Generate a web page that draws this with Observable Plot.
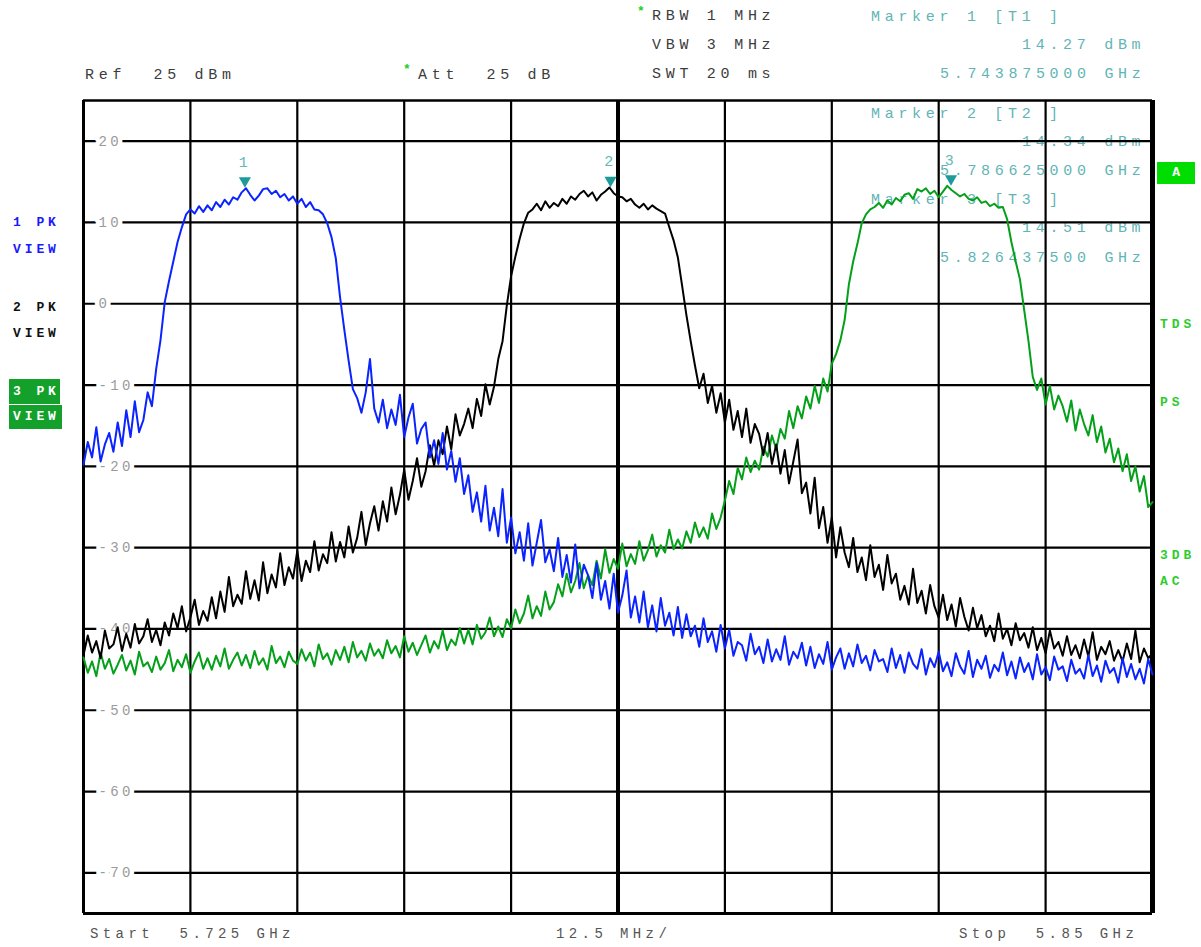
<!DOCTYPE html>
<html><head><meta charset="utf-8">
<script src="https://cdn.jsdelivr.net/npm/d3@7"></script>
<script src="https://cdn.jsdelivr.net/npm/@observablehq/plot@0.6"></script>
<style>
html,body{margin:0;padding:0;background:#fff;}
#wrap{position:relative;width:1201px;height:947px;overflow:hidden;font-family:"Liberation Mono",monospace;}
.t{position:absolute;white-space:pre;font-size:15px;letter-spacing:4.7px;line-height:20px;color:#3c3c3c;}
.teal{color:#5fb5b5;}
.star{position:absolute;color:#22cc22;font-size:13px;font-weight:bold;line-height:14px;}
.lab{position:absolute;white-space:pre;font-size:13px;font-weight:bold;letter-spacing:3.9px;line-height:20px;}
.box{position:absolute;background:#13a02b;color:#fff;font-size:13px;font-weight:bold;letter-spacing:3.9px;white-space:pre;box-sizing:border-box;padding-left:4px;}
.bot{position:absolute;white-space:pre;font-size:14px;letter-spacing:4.4px;line-height:20px;color:#555;}
#chart{position:absolute;left:0;top:0;z-index:1;}
#chart text{letter-spacing:3.3px;}
</style>
</head><body>
<div id="wrap"></div>
<script>
// ---- data ----
const startMHz = 5725, stopMHz = 5850, stepMHz = 0.5;
const trace1Blue = [
-19.8,-17.0,-18.9,-15.2,-19.4,-17.3,-15.9,-18.2,-14.6,-17.5,
-13.1,-16.4,-12.0,-15.8,-14.3,-10.9,-12.6,-8.0,-4.5,0.2,
2.8,5.2,7.6,9.4,11.0,11.6,11.1,12.0,11.3,12.1,
11.5,12.5,11.9,12.8,12.2,13.1,12.8,13.7,14.2,13.4,
12.7,13.3,14.1,14.2,13.5,13.9,13.1,13.5,12.7,13.2,
12.3,12.9,11.9,12.5,11.6,11.5,11.0,9.9,8.2,5.6,
0.8,-3.2,-7.0,-10.5,-11.6,-13.4,-10.9,-6.8,-12.9,-14.6,
-11.8,-15.3,-13.0,-14.9,-11.2,-16.4,-14.0,-12.3,-17.2,-15.4,
-14.6,-18.9,-16.8,-19.7,-15.9,-20.4,-18.1,-21.9,-19.0,-23.4,
-21.1,-25.6,-23.2,-26.8,-22.4,-27.9,-25.1,-28.6,-22.8,-29.4,
-26.3,-30.7,-28.1,-31.6,-27.0,-32.2,-29.4,-26.6,-31.8,-30.2,
-32.9,-28.8,-33.6,-30.9,-34.3,-29.6,-35.0,-32.1,-33.4,-36.2,
-31.9,-36.4,-34.1,-37.5,-33.2,-38.0,-35.9,-32.8,-38.6,-36.0,
-39.2,-35.4,-39.8,-37.1,-40.3,-36.2,-39.6,-38.0,-40.8,-37.3,
-41.1,-38.2,-40.9,-39.6,-42.2,-38.7,-41.6,-40.3,-42.8,-39.5,
-42.4,-40.1,-43.3,-41.6,-42.0,-43.9,-40.6,-43.1,-42.2,-44.2,
-41.3,-44.0,-42.5,-43.8,-40.9,-44.4,-42.8,-43.6,-41.7,-44.5,
-42.2,-44.8,-43.1,-44.3,-41.6,-45.0,-43.5,-42.4,-44.9,-43.0,
-44.6,-41.9,-44.2,-43.3,-45.1,-42.6,-44.0,-43.7,-45.3,-42.4,
-44.8,-43.2,-45.4,-42.9,-44.3,-44.9,-42.5,-45.6,-43.6,-44.7,
-42.8,-45.2,-44.1,-45.8,-43.0,-44.6,-45.5,-42.7,-45.9,-43.8,
-44.9,-43.3,-46.0,-44.4,-45.2,-42.9,-45.7,-44.0,-46.1,-43.5,
-45.3,-44.2,-46.2,-43.1,-45.6,-44.7,-46.3,-43.4,-45.0,-44.6,
-46.4,-43.8,-45.5,-44.9,-46.1,-43.2,-45.8,-44.5,-46.5,-43.9,
-45.4,-44.8,-46.6,-43.6,-45.9,-44.3,-46.2,-44.9,-46.7,-43.7,
-45.6];
const trace2Black = [
-43.2,-40.8,-42.9,-41.5,-43.6,-40.2,-42.4,-41.9,-39.8,-42.7,
-40.6,-42.3,-39.4,-41.8,-40.9,-38.8,-41.6,-40.1,-42.0,-39.2,
-40.8,-38.1,-39.9,-37.2,-40.3,-38.6,-36.4,-39.5,-37.8,-39.0,
-36.1,-38.7,-35.4,-37.9,-33.6,-37.2,-35.8,-36.9,-32.9,-36.3,
-34.0,-36.5,-31.8,-35.6,-33.3,-34.9,-30.7,-34.6,-32.4,-33.8,
-30.4,-34.1,-31.6,-33.0,-29.2,-32.8,-30.8,-31.9,-28.1,-31.7,
-29.3,-31.2,-27.4,-30.6,-28.8,-25.6,-29.7,-27.0,-24.9,-27.9,
-24.3,-26.8,-22.6,-25.9,-23.5,-20.4,-24.1,-21.8,-19.0,-22.5,
-20.6,-17.4,-19.9,-16.8,-18.5,-15.1,-17.9,-13.6,-16.2,-14.8,
-12.9,-15.3,-11.7,-13.8,-9.9,-12.4,-10.2,-6.8,-4.6,-0.2,
3.4,5.8,8.0,9.9,11.2,11.6,12.3,11.5,12.6,11.8,
12.4,12.0,12.9,12.3,13.2,12.8,13.5,13.9,13.2,13.7,
12.7,13.4,13.8,14.3,13.6,13.2,13.1,12.6,12.9,12.2,
11.8,12.3,11.6,12.1,11.7,11.4,11.1,9.4,7.8,5.7,
2.2,-1.4,-4.6,-7.6,-10.4,-8.6,-12.2,-10.1,-13.4,-11.0,
-14.6,-11.8,-15.5,-13.2,-16.4,-12.9,-17.1,-14.8,-16.0,-18.6,
-15.9,-19.7,-17.3,-20.9,-18.0,-22.1,-19.4,-16.7,-23.3,-22.0,
-25.8,-21.4,-27.6,-25.0,-29.4,-26.3,-31.2,-27.5,-30.6,-32.4,
-28.8,-33.0,-31.2,-34.0,-29.7,-33.6,-32.1,-35.2,-30.9,-34.4,
-33.2,-36.4,-34.7,-37.0,-32.6,-36.8,-35.3,-38.1,-34.6,-37.2,
-38.6,-35.8,-38.9,-37.0,-39.7,-36.2,-38.5,-40.2,-37.4,-39.9,
-38.3,-40.9,-39.6,-41.5,-38.1,-41.2,-40.0,-42.0,-39.3,-41.4,
-40.5,-42.3,-39.8,-42.6,-41.1,-43.0,-40.2,-42.4,-41.6,-43.3,
-40.9,-43.2,-42.0,-43.6,-41.3,-43.4,-40.4,-43.8,-42.2,-43.1,
-41.5,-43.9,-42.6,-44.0,-41.8,-43.7,-40.2,-44.1,-42.4,-43.6,
-43.0];
const trace3Green = [
-43.5,-45.4,-44.0,-45.8,-42.9,-44.9,-43.7,-45.5,-44.4,-43.2,
-45.1,-43.9,-45.6,-42.8,-44.6,-44.1,-45.3,-43.4,-45.0,-44.2,
-42.6,-45.2,-43.8,-44.7,-43.1,-45.4,-44.0,-42.9,-44.9,-43.6,
-45.0,-43.3,-44.6,-42.4,-44.9,-43.8,-42.9,-44.5,-43.2,-44.8,
-42.7,-44.4,-43.6,-45.0,-42.1,-44.2,-43.4,-44.7,-42.8,-43.9,
-44.3,-42.5,-43.9,-42.9,-44.6,-41.9,-43.7,-43.0,-44.4,-42.6,
-43.8,-42.2,-44.1,-41.6,-43.5,-42.7,-43.9,-41.8,-43.3,-42.5,
-43.6,-41.4,-43.0,-42.1,-43.5,-40.9,-42.8,-41.7,-43.2,-42.0,
-40.8,-42.9,-41.5,-42.4,-40.2,-42.6,-41.3,-42.0,-39.9,-41.8,
-40.1,-41.9,-39.5,-41.2,-40.4,-38.6,-40.9,-39.7,-41.0,-38.8,
-39.9,-37.6,-39.3,-38.1,-35.9,-38.7,-37.2,-38.4,-35.4,-37.6,
-36.7,-34.5,-36.0,-33.2,-35.5,-34.1,-31.9,-35.0,-33.4,-34.6,
-31.6,-33.8,-30.2,-33.1,-31.4,-32.6,-29.5,-32.3,-30.8,-32.0,
-29.2,-31.6,-30.3,-28.4,-31.1,-29.7,-30.6,-27.8,-30.2,-29.0,
-30.1,-28.0,-29.4,-26.9,-28.7,-27.5,-28.9,-25.8,-27.7,-26.3,
-24.2,-21.8,-23.4,-20.2,-21.6,-18.9,-20.7,-19.3,-20.4,-17.6,
-18.8,-16.2,-17.9,-15.4,-16.6,-13.2,-15.3,-12.6,-14.1,-11.4,
-12.9,-10.1,-12.2,-9.2,-10.8,-7.4,-6.2,-4.5,-2.0,2.4,
5.2,7.4,9.9,11.0,11.6,11.9,12.4,11.8,12.7,12.2,
13.0,12.6,13.4,13.6,12.9,14.1,13.8,14.2,13.5,13.9,
13.1,13.8,14.5,14.0,13.6,13.2,13.5,12.9,12.7,13.1,
12.4,12.6,12.0,12.3,11.8,11.9,10.4,7.6,5.2,3.0,
-0.8,-4.6,-9.0,-10.6,-9.2,-12.4,-10.1,-13.0,-11.3,-12.6,
-14.5,-11.9,-15.6,-13.0,-14.8,-16.2,-13.7,-17.0,-15.1,-18.3,
-16.6,-19.5,-17.8,-20.6,-18.5,-21.8,-20.0,-23.1,-21.2,-25.0,
-24.4];
const markerNames = ["1", "2", "3"];
const markerFreqs = [5743.875, 5786.625, 5826.4375];
const markerLevels = [14.27, 14.34, 14.51];
const yTicks = [20, 10, 0, -10, -20, -30, -40, -50, -60, -70];
const xGrid = [5737.5, 5750, 5762.5, 5775, 5800, 5812.5, 5825, 5837.5];
const xCenter = 5787.5;
const refLevel = 25, bottomLevel = -75;

// ---- build ----
const freqs = trace1Blue.map((_, i) => startMHz + i * stepMHz);
const toRows = (vals) => vals.map((v, i) => ({f: freqs[i], v}));
const markers = markerNames.map((n, i) => ({name: n, f: markerFreqs[i], v: markerLevels[i]}));

const chart = Plot.plot({
  width: 1201, height: 947,
  marginLeft: 83, marginRight: 49, marginTop: 100, marginBottom: 34,
  x: {domain: [startMHz, stopMHz], axis: null},
  y: {domain: [bottomLevel, refLevel], axis: null},
  style: {background: "transparent", overflow: "visible"},
  marks: [
    Plot.ruleY(yTicks, {stroke: "#000", strokeWidth: 2.2}),
    Plot.ruleX(xGrid, {stroke: "#000", strokeWidth: 2.2}),
    Plot.ruleX([xCenter], {stroke: "#000", strokeWidth: 4}),
    Plot.ruleY([refLevel], {stroke: "#000", strokeWidth: 2.5}),
    Plot.ruleY([bottomLevel], {stroke: "#000", strokeWidth: 3}),
    Plot.ruleX([startMHz], {stroke: "#000", strokeWidth: 3}),
    Plot.ruleX([stopMHz], {stroke: "#000", strokeWidth: 5}),
    Plot.text(yTicks, {x: startMHz, y: d => d, text: d => String(d), dx: 15, textAnchor: "start",
      fill: "#9a9a9a", stroke: "white", strokeWidth: 9, fontSize: 14, fontFamily: "Liberation Mono"}),
    Plot.line(toRows(trace3Green), {x: "f", y: "v", stroke: "#05a019", strokeWidth: 2}),
    Plot.line(toRows(trace2Black), {x: "f", y: "v", stroke: "#000000", strokeWidth: 2}),
    Plot.line(toRows(trace1Blue), {x: "f", y: "v", stroke: "#0a23ff", strokeWidth: 2}),
    Plot.dot(markers, {x: "f", y: "v", symbol: "triangle", rotate: 180, r: 4.5, fill: "#1e9a9a", dy: -7}),
    Plot.text(markers, {x: "f", y: "v", text: "name", dy: -26, fill: "#66b8b8", fontSize: 15, fontFamily: "Liberation Mono"})
  ]
});
chart.id = "chart";
const wrap = document.getElementById("wrap");

const texts = [
  // [text, left, centerY, class]
  ["Ref  25 dBm", 85, 76, "t"],
  ["Att  25 dB", 418, 76, "t"],
  ["RBW 1 MHz", 652, 17, "t"],
  ["VBW 3 MHz", 652, 46, "t"],
  ["SWT 20 ms", 652, 75, "t"],
  ["Marker 1 [T1 ]", 871, 18, "t teal"],
  ["14.27 dBm", 1022, 46, "t teal"],
  ["5.743875000 GHz", 940, 75, "t teal"],
  ["Marker 2 [T2 ]", 871, 115, "t teal"],
  ["14.34 dBm", 1022, 143, "t teal"],
  ["5.786625000 GHz", 940, 172, "t teal"],
  ["Marker 3 [T3 ]", 871, 201, "t teal"],
  ["14.51 dBm", 1022, 229, "t teal"],
  ["5.826437500 GHz", 940, 259, "t teal"],
  ["Start  5.725 GHz", 90, 934, "bot"],
  ["12.5 MHz/", 556, 934, "bot"],
  ["Stop  5.85 GHz", 959, 934, "bot"]
];
for (const [s, x, y, c] of texts) {
  const d = document.createElement("div");
  d.className = c; d.textContent = s;
  d.style.left = x + "px"; d.style.top = (y - 10) + "px";
  wrap.appendChild(d);
}
for (const [x, y] of [[403, 70], [637, 12]]) {
  const d = document.createElement("div");
  d.className = "star"; d.textContent = "*";
  d.style.left = x + "px"; d.style.top = (y - 7) + "px";
  wrap.appendChild(d);
}
const labels = [
  ["1 PK", 13, 223, "#1a1aff"], ["VIEW", 13, 250, "#1a1aff"],
  ["2 PK", 13, 308, "#111"], ["VIEW", 13, 334, "#111"],
  ["TDS", 1160, 325, "#2fcc2f"], ["PS", 1160, 403, "#2fcc2f"],
  ["3DB", 1160, 556, "#2fcc2f"], ["AC", 1160, 582, "#2fcc2f"]
];
for (const [s, x, y, col] of labels) {
  const d = document.createElement("div");
  d.className = "lab"; d.textContent = s; d.style.color = col;
  d.style.left = x + "px"; d.style.top = (y - 10) + "px";
  wrap.appendChild(d);
}
const boxes = [
  ["3 PK", 9, 379, 51, 25, "#13a02b", "left"],
  ["VIEW", 9, 405, 53, 24, "#13a02b", "left"],
  ["A", 1157, 162, 38, 22, "#00dd00", "center"]
];
for (const [s, x, y, w, h, bg, al] of boxes) {
  const d = document.createElement("div");
  d.className = "box"; d.textContent = s;
  d.style.left = x + "px"; d.style.top = y + "px";
  d.style.width = w + "px"; d.style.height = h + "px";
  d.style.lineHeight = h + "px"; d.style.background = bg;
  d.style.textAlign = al;
  wrap.appendChild(d);
}
wrap.appendChild(chart);
</script>
</body></html>
